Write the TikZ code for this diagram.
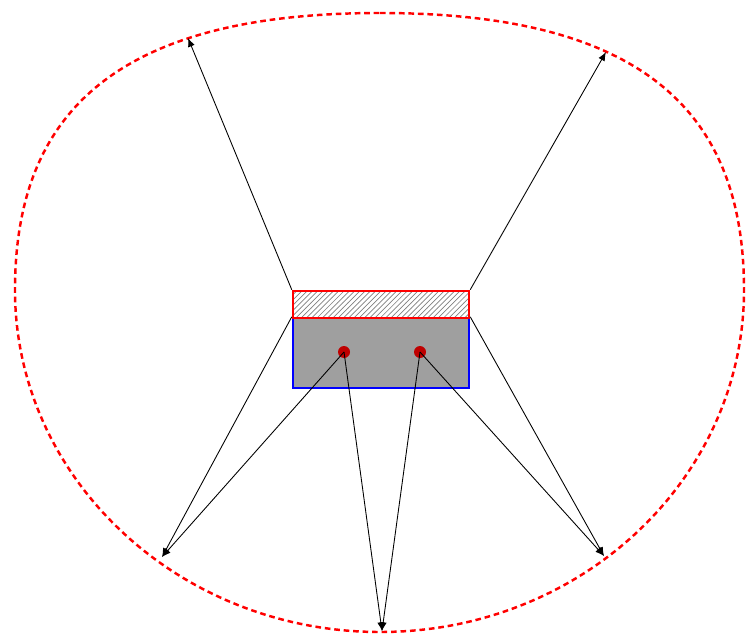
\documentclass[tikz,border=0pt]{standalone}
\usetikzlibrary{arrows.meta}
\usetikzlibrary{patterns}
\tikzset{strip/.style={draw=red,line width=1.4pt,pattern=north east lines,pattern color=gray,
                       minimum width=3.52cm,minimum height=0.54cm,inner sep=0pt},
         body/.style={draw=blue,line width=1.4pt,fill=gray!75,
                      minimum width=3.52cm,minimum height=1.4cm,inner sep=0pt},
         src/.style={circle,fill=red!75!black,inner sep=0pt,minimum size=2.4mm},
         ray/.style={line width=0.5pt,-{Latex[length=5pt,width=4pt]}},
         bound/.style={red,line width=1.4pt,dash pattern=on 3.2pt off 2.2pt}
         }

\begin{document}
\begin{tikzpicture}[x=0.02cm,y=-0.02cm]
  \useasboundingbox (0,0) rectangle (747,635);

  % boundary
  \draw[bound] (380,13) .. controls (650,13) and (744,118) .. (744,290)
                        .. controls (744,479) and (581,632) .. (380,632)
                        .. controls (179,632) and (15,479) .. (15,290)
                        .. controls (15,118) and (110,13) .. (380,13) -- cycle;

  \coordinate (t1) at (188,38);
  \coordinate (t2) at (606,52);
  \coordinate (b1) at (162,557);
  \coordinate (b2) at (382,631);
  \coordinate (b3) at (604,556);

  \node[body] (body) at (381,353) {};
  \node[strip] (strip) at (381,304.5) {};
  \node[src] (s1) at (344,352) {};
  \node[src] (s2) at (420,352) {};

  \draw[ray] (strip.north west) -- (t1);
  \draw[ray] (strip.north east) -- (t2);
  \draw[ray] (body.north west) -- (b1);
  \draw[ray] (body.north east) -- (b3);
  \draw[ray] (s1.center) -- (b1);
  \draw[ray] (s1.center) -- (b2);
  \draw[ray] (s2.center) -- (b2);
  \draw[ray] (s2.center) -- (b3);
\end{tikzpicture}
\end{document}
